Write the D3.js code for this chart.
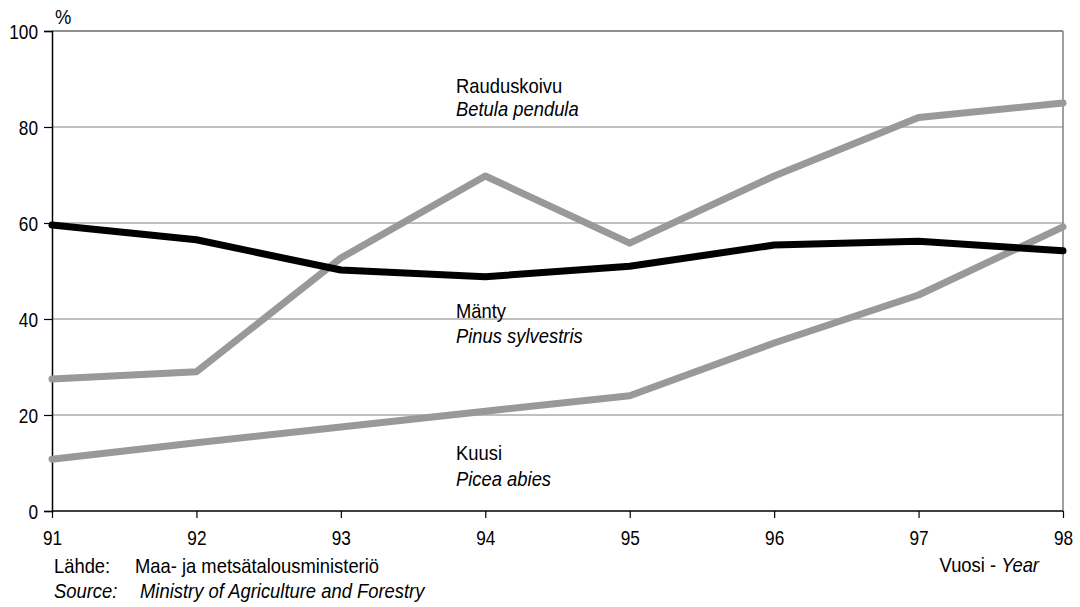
<!DOCTYPE html>
<html><head><meta charset="utf-8">
<script src="https://cdn.jsdelivr.net/npm/d3@7"></script>
<style>
body{margin:0;background:#fff;}
text{font-family:"Liberation Sans Narrow","Arial Narrow","Liberation Sans",Arial,sans-serif;fill:#000;}
</style></head><body>
<svg id="c" width="1080" height="607"></svg>
<script>
const years = ["91","92","93","94","95","96","97","98"];
const birch = [27.5, 29, 52.7, 69.8, 55.8, 69.8, 82, 85];
const pine = [59.6, 56.5, 50.2, 48.8, 51, 55.4, 56.2, 54.2];
const spruce = [10.8, 14.2, 17.5, 20.8, 24, 35, 45, 59.2];
const yTicks = [0, 20, 40, 60, 80, 100];

const svg = d3.select("#c");
const x = d3.scalePoint().domain(years).range([52, 1063]);
const y = d3.scaleLinear().domain([0, 100]).range([511, 31]);
const TS = 0.82; // tick label horizontal squeeze

// gridlines
svg.append("g").selectAll("line").data(yTicks.filter(d => d > 0 && d < 100)).join("line")
  .attr("x1", 52).attr("x2", 1063).attr("y1", d => y(d)).attr("y2", d => y(d))
  .attr("stroke", "#808080").attr("stroke-width", 1);
// top line
svg.append("line").attr("x1", 52).attr("x2", 1063).attr("y1", y(100)).attr("y2", y(100))
  .attr("stroke", "#222").attr("stroke-width", 1.2);
// right border
svg.append("line").attr("x1", 1063).attr("x2", 1063).attr("y1", y(100)).attr("y2", y(0))
  .attr("stroke", "#808080").attr("stroke-width", 1.5);

// axes
const yAxis = d3.axisLeft(y).tickValues(yTicks).tickSize(8).tickPadding(6);
const gy = svg.append("g").attr("transform", "translate(52,0)").call(yAxis);
gy.select(".domain").attr("stroke", "#000").attr("stroke-width", 1.5);
gy.selectAll(".tick line").attr("stroke", "#000").attr("stroke-width", 1.2);
gy.selectAll(".tick text").attr("font-size", 21).attr("font-family", null)
  .attr("x", -14 / TS).attr("dy", "0.36em").attr("transform", `scale(${TS},1)`);

const xAxis = d3.axisBottom(x).tickSize(7).tickPadding(4);
const gx = svg.append("g").attr("transform", "translate(0,511)").call(xAxis);
gx.select(".domain").attr("stroke", "#000").attr("stroke-width", 1.5).attr("d", "M52,0H1063");
gx.selectAll(".tick line").attr("stroke", "#000").attr("stroke-width", 1.2);
gx.selectAll(".tick text").attr("font-size", 21).attr("font-family", null)
  .attr("y", 34).attr("dy", null).attr("transform", `scale(${TS},1)`);

// lines
const line = d3.line().x((d, i) => x(years[i])).y(d => y(d));
const series = [
  {v: spruce, c: "#999999"},
  {v: birch, c: "#999999"},
  {v: pine, c: "#000000"}
];
svg.append("g").selectAll("path").data(series).join("path")
  .attr("d", d => line(d.v)).attr("fill", "none").attr("stroke", d => d.c)
  .attr("stroke-width", 7).attr("stroke-linejoin", "round").attr("stroke-linecap", "round");

// labels
const LS = 0.92;
const lab = (t, xx, yy, it, anchor) => svg.append("text")
  .attr("transform", `translate(${xx},${yy}) scale(${LS},1)`)
  .attr("font-size", 20).attr("font-style", it ? "italic" : null)
  .attr("text-anchor", anchor || "start").text(t);
lab("%", 55, 24, false);
lab("Rauduskoivu", 456, 93, false);
lab("Betula pendula", 456, 116, true);
lab("Mänty", 456, 318, false);
lab("Pinus sylvestris", 456, 343, true);
lab("Kuusi", 456, 460, false);
lab("Picea abies", 456, 486, true);
lab("Lähde:", 54, 573, false);
lab("Maa- ja metsätalousministeriö", 135, 573, false);
lab("Source:", 54, 598, true);
lab("Ministry of Agriculture and Forestry", 140, 598, true);
const v = svg.append("text").attr("transform", `translate(1039,572) scale(${LS},1)`)
  .attr("font-size", 20).attr("text-anchor", "end");
v.append("tspan").text("Vuosi - ");
v.append("tspan").attr("font-style", "italic").text("Year");
</script>
</body></html>
